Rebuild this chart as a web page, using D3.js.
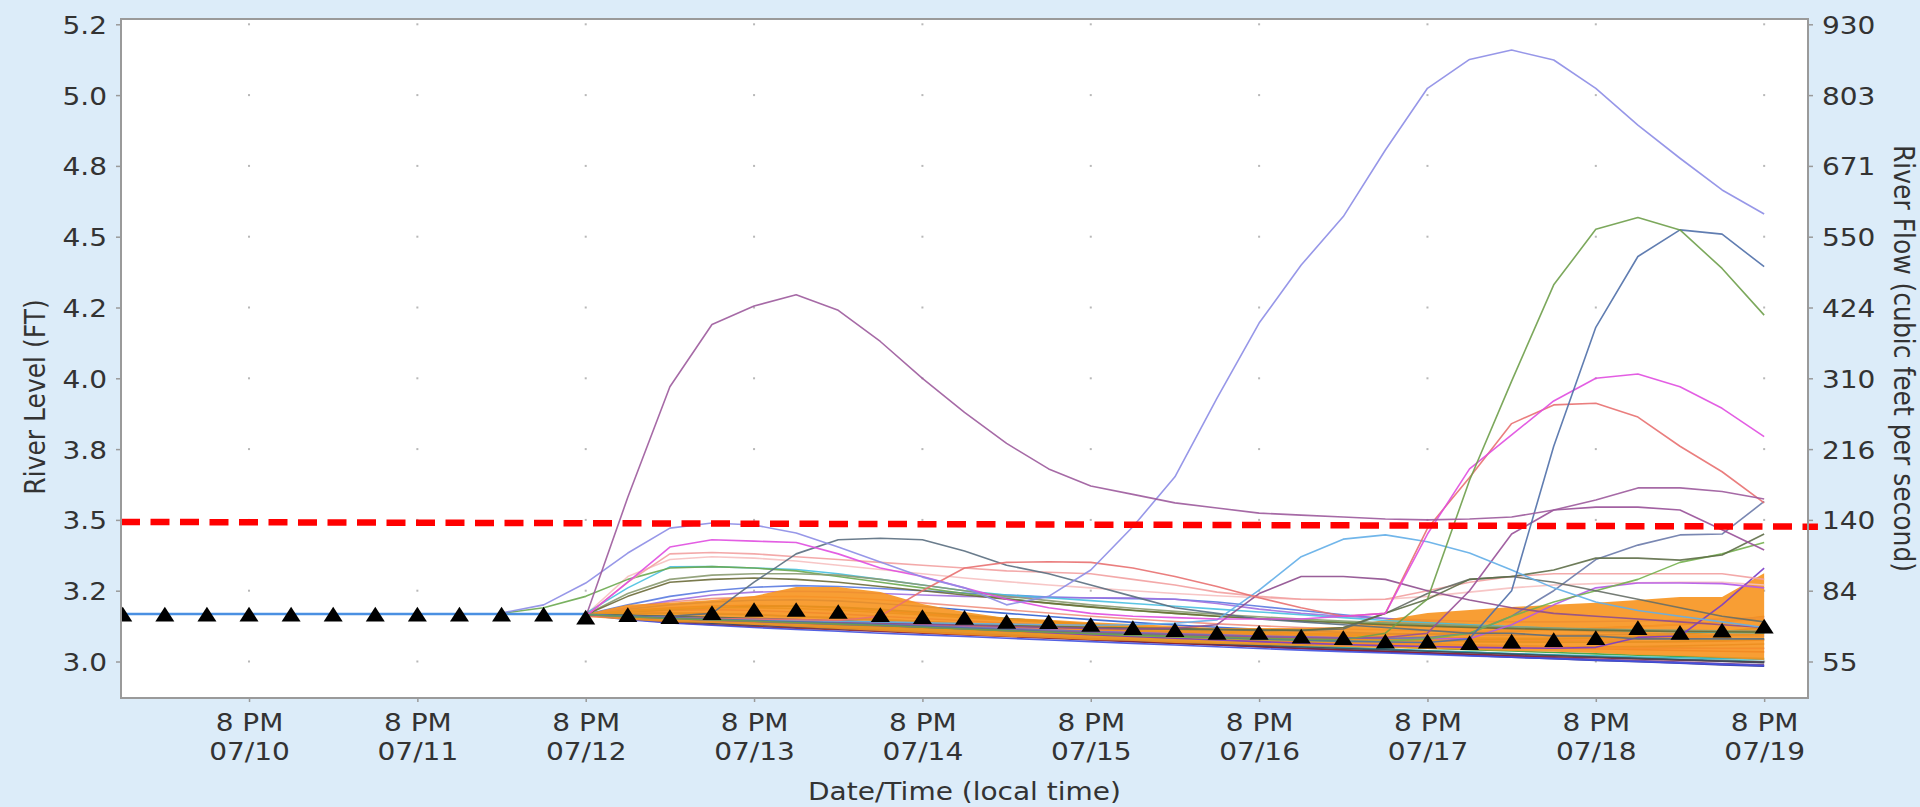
<!DOCTYPE html>
<html>
<head>
<meta charset="utf-8">
<script src="https://cdn.jsdelivr.net/npm/d3@7"></script>
<style>
  html, body { margin: 0; padding: 0; background: #dcecf9; }
  svg { display: block; font-family: 'DejaVu Sans', sans-serif; }
</style>
</head>
<body>
<div id="chart"></div>
<script>
'use strict';

const parseTime = d3.utcParse('%Y-%m-%d %H:%M');

// 6-hourly time steps, index 0 = 07/10 02:00
const times = [
  '2019-07-10 02:00', '2019-07-10 08:00', '2019-07-10 14:00', '2019-07-10 20:00',
  '2019-07-11 02:00', '2019-07-11 08:00', '2019-07-11 14:00', '2019-07-11 20:00',
  '2019-07-12 02:00', '2019-07-12 08:00', '2019-07-12 14:00', '2019-07-12 20:00',
  '2019-07-13 02:00', '2019-07-13 08:00', '2019-07-13 14:00', '2019-07-13 20:00',
  '2019-07-14 02:00', '2019-07-14 08:00', '2019-07-14 14:00', '2019-07-14 20:00',
  '2019-07-15 02:00', '2019-07-15 08:00', '2019-07-15 14:00', '2019-07-15 20:00',
  '2019-07-16 02:00', '2019-07-16 08:00', '2019-07-16 14:00', '2019-07-16 20:00',
  '2019-07-17 02:00', '2019-07-17 08:00', '2019-07-17 14:00', '2019-07-17 20:00',
  '2019-07-18 02:00', '2019-07-18 08:00', '2019-07-18 14:00', '2019-07-18 20:00',
  '2019-07-19 02:00', '2019-07-19 08:00', '2019-07-19 14:00', '2019-07-19 20:00'
].map(parseTime);

const timeDomain = ['2019-07-10 01:45', '2019-07-20 02:15'];
const dayTicks = [
  '2019-07-10 20:00', '2019-07-11 20:00', '2019-07-12 20:00', '2019-07-13 20:00', '2019-07-14 20:00',
  '2019-07-15 20:00', '2019-07-16 20:00', '2019-07-17 20:00', '2019-07-18 20:00', '2019-07-19 20:00'
];
const dayTickDates = ['07/10', '07/11', '07/12', '07/13', '07/14', '07/15', '07/16', '07/17', '07/18', '07/19'];

const stageDomain = [2.8711, 5.2687];
const stageTicks = [3.0, 3.25, 3.5, 3.75, 4.0, 4.25, 4.5, 4.75, 5.0, 5.25];
const stageTickLabels = ['3.0', '3.2', '3.5', '3.8', '4.0', '4.2', '4.5', '4.8', '5.0', '5.2'];
const flowTickLabels = ['55', '84', '140', '216', '310', '424', '550', '671', '803', '930'];

// observed level (index 0..11)
const observed = [3.168, 3.168, 3.168, 3.168, 3.168, 3.168, 3.168, 3.168, 3.168, 3.168, 3.168, 3.168];

// triangle markers (index 0..39)
const markers = [
  3.166, 3.166, 3.166, 3.166, 3.166, 3.166, 3.166, 3.166, 3.166, 3.166, 3.166,
  3.155, 3.164, 3.157, 3.171, 3.182, 3.182, 3.175, 3.164, 3.157, 3.154,
  3.14, 3.139, 3.129, 3.118, 3.111, 3.101, 3.101, 3.088, 3.083, 3.07,
  3.07, 3.065, 3.07, 3.076, 3.083, 3.118, 3.101, 3.109, 3.123
];

// shaded band (index 11..39)
const bandUpper = [3.168, 3.2, 3.207, 3.217, 3.231, 3.263, 3.263, 3.245, 3.203, 3.175, 3.154, 3.147, 3.139, 3.132, 3.125,
  3.118, 3.118, 3.118, 3.122, 3.147, 3.171, 3.182, 3.192, 3.2, 3.207, 3.217, 3.228, 3.228, 3.312];
const bandLower = [3.157, 3.147, 3.139, 3.136, 3.129, 3.122, 3.115, 3.108, 3.101, 3.094, 3.087, 3.083, 3.076, 3.072, 3.065,
  3.062, 3.058, 3.055, 3.051, 3.048, 3.044, 3.041, 3.037, 3.034, 3.03, 3.023, 3.019, 3.012, 3.005];

// flood level line
const floodTimes = ['2019-07-10 01:45', '2019-07-20 03:40'];
const floodStage = [3.493, 3.476];

// ensemble traces, values from index 11 unless noted
const purplePeak = [3.157, 3.58, 3.97, 4.19, 4.255, 4.295, 4.24, 4.13, 4.0, 3.88, 3.77, 3.68, 3.62, 3.59, 3.56,
  3.542, 3.524, 3.517, 3.51, 3.503, 3.5, 3.503, 3.51, 3.535, 3.57, 3.613, 3.613, 3.6, 3.574];
const lavenderPeak = [3.171, 3.2, 3.277, 3.383, 3.471, 3.489, 3.482, 3.454, 3.404, 3.351, 3.298, 3.26, 3.2, 3.23, 3.323,
  3.476, 3.652, 3.93, 4.195, 4.4, 4.571, 4.806, 5.024, 5.126, 5.159, 5.124, 5.024, 4.894, 4.777, 4.665, 4.58]; // from index 9
const greenPeak = [3.165, 3.158, 3.152, 3.147, 3.142, 3.137, 3.132, 3.127, 3.121, 3.115, 3.109, 3.104, 3.099, 3.094, 3.09,
  3.086, 3.082, 3.079, 3.077, 3.1, 3.22, 3.64, 3.99, 4.33, 4.526, 4.568, 4.524, 4.388, 4.223];
const steelPeak = [3.165, 3.16, 3.155, 3.15, 3.145, 3.14, 3.135, 3.13, 3.124, 3.118, 3.112, 3.106, 3.1, 3.095, 3.09,
  3.085, 3.08, 3.076, 3.072, 3.069, 3.067, 3.08, 3.25, 3.76, 4.18, 4.43, 4.524, 4.509, 4.394];
const magentaPeak = [3.16, 3.28, 3.404, 3.43, 3.425, 3.42, 3.38, 3.33, 3.3, 3.26, 3.22, 3.19, 3.17, 3.16, 3.155,
  3.15, 3.15, 3.15, 3.16, 3.17, 3.45, 3.68, 3.8, 3.92, 4.0, 4.015, 3.97, 3.894, 3.794];
const salmonPeak = [3.16, 3.158, 3.155, 3.152, 3.15, 3.148, 3.145, 3.16, 3.25, 3.33, 3.35, 3.352, 3.35, 3.33, 3.3,
  3.265, 3.225, 3.19, 3.16, 3.17, 3.47, 3.65, 3.84, 3.906, 3.912, 3.863, 3.76, 3.67, 3.56];
const lightBlueBump = [3.166, 3.16, 3.155, 3.15, 3.147, 3.145, 3.142, 3.14, 3.137, 3.134, 3.132, 3.13, 3.128, 3.13, 3.135,
  3.147, 3.252, 3.37, 3.432, 3.447, 3.423, 3.383, 3.323, 3.26, 3.21, 3.18, 3.16, 3.14, 3.12];
const purpleBump = [3.165, 3.16, 3.156, 3.152, 3.148, 3.144, 3.14, 3.136, 3.132, 3.128, 3.124, 3.12, 3.117, 3.115, 3.118,
  3.13, 3.24, 3.3, 3.3, 3.29, 3.25, 3.217, 3.19, 3.17, 3.16, 3.15, 3.14, 3.13, 3.12];
const plumLate = [3.165, 3.158, 3.152, 3.146, 3.141, 3.136, 3.131, 3.126, 3.121, 3.116, 3.111, 3.106, 3.102, 3.098, 3.094,
  3.09, 3.087, 3.084, 3.082, 3.085, 3.1, 3.25, 3.45, 3.535, 3.545, 3.545, 3.535, 3.465, 3.394];
const slateBump = [3.165, 3.16, 3.16, 3.17, 3.28, 3.38, 3.43, 3.435, 3.43, 3.39, 3.34, 3.31, 3.27, 3.23, 3.19,
  3.17, 3.15, 3.14, 3.13, 3.12, 3.11, 3.1, 3.1, 3.09, 3.09, 3.08, 3.08, 3.08, 3.08];
const oliveLate = [3.165, 3.162, 3.158, 3.154, 3.15, 3.146, 3.142, 3.138, 3.134, 3.13, 3.127, 3.124, 3.121, 3.118, 3.116,
  3.114, 3.112, 3.11, 3.12, 3.17, 3.22, 3.29, 3.3, 3.323, 3.365, 3.365, 3.358, 3.376, 3.45];
const grayLate = [3.166, 3.163, 3.16, 3.156, 3.152, 3.148, 3.143, 3.138, 3.134, 3.13, 3.126, 3.122, 3.119, 3.116, 3.114,
  3.112, 3.11, 3.11, 3.115, 3.17, 3.24, 3.29, 3.3, 3.28, 3.25, 3.22, 3.19, 3.16, 3.14];
const greenLate = [3.167, 3.163, 3.158, 3.152, 3.146, 3.14, 3.134, 3.128, 3.122, 3.116, 3.11, 3.104, 3.098, 3.092, 3.087,
  3.082, 3.078, 3.074, 3.071, 3.072, 3.08, 3.1, 3.16, 3.21, 3.25, 3.29, 3.35, 3.38, 3.42];
const blueGrayLate = [3.166, 3.161, 3.156, 3.151, 3.146, 3.141, 3.136, 3.131, 3.126, 3.121, 3.116, 3.111, 3.106, 3.101, 3.097,
  3.093, 3.089, 3.086, 3.083, 3.081, 3.085, 3.1, 3.16, 3.25, 3.36, 3.411, 3.447, 3.45, 3.565];
const pinkHigh = [3.16, 3.28, 3.38, 3.385, 3.38, 3.37, 3.36, 3.35, 3.34, 3.33, 3.32, 3.315, 3.31, 3.29, 3.27,
  3.245, 3.23, 3.22, 3.217, 3.22, 3.25, 3.28, 3.3, 3.31, 3.31, 3.31, 3.31, 3.31, 3.29];
const violetLate = [3.166, 3.162, 3.157, 3.152, 3.147, 3.142, 3.137, 3.132, 3.127, 3.122, 3.117, 3.112, 3.107, 3.102, 3.098,
  3.094, 3.09, 3.087, 3.084, 3.082, 3.081, 3.08, 3.13, 3.2, 3.26, 3.277, 3.277, 3.275, 3.26];
const violetEnd = [3.166, 3.16, 3.155, 3.15, 3.145, 3.14, 3.134, 3.128, 3.122, 3.116, 3.109, 3.102, 3.095, 3.088, 3.082,
  3.076, 3.07, 3.065, 3.06, 3.056, 3.053, 3.05, 3.048, 3.047, 3.05, 3.085, 3.09, 3.2, 3.33];
const cyanEarly = [3.17, 3.26, 3.334, 3.335, 3.33, 3.325, 3.31, 3.29, 3.27, 3.25, 3.235, 3.225, 3.215, 3.205, 3.195,
  3.185, 3.175, 3.165, 3.155, 3.145, 3.137, 3.13, 3.123, 3.117, 3.112, 3.108, 3.105, 3.103, 3.102];
const greenEarly = [3.17, 3.19, 3.23, 3.29, 3.33, 3.335, 3.33, 3.32, 3.3, 3.28, 3.26, 3.24, 3.222, 3.206, 3.192,
  3.18, 3.17, 3.16, 3.152, 3.145, 3.139, 3.133, 3.128, 3.123, 3.119, 3.115, 3.112, 3.109, 3.107, 3.105, 3.103]; // from index 9
const sageEarly = [3.165, 3.24, 3.29, 3.305, 3.31, 3.31, 3.305, 3.29, 3.27, 3.25, 3.23, 3.215, 3.2, 3.188, 3.177,
  3.167, 3.158, 3.15, 3.143, 3.137, 3.131, 3.126, 3.122, 3.118, 3.115, 3.112, 3.11, 3.108, 3.107];
const oliveEarly = [3.165, 3.23, 3.28, 3.29, 3.295, 3.29, 3.28, 3.265, 3.25, 3.235, 3.22, 3.206, 3.193, 3.181, 3.17,
  3.16, 3.151, 3.143, 3.136, 3.13, 3.125, 3.12, 3.116, 3.113, 3.11, 3.108, 3.106, 3.105, 3.104];
const blueEarly = [3.166, 3.2, 3.23, 3.25, 3.262, 3.268, 3.265, 3.258, 3.25, 3.242, 3.235, 3.228, 3.224, 3.222, 3.22,
  3.21, 3.195, 3.18, 3.165, 3.152, 3.14, 3.13, 3.12, 3.112, 3.105, 3.1, 3.095, 3.092, 3.09];
const lilacEarly = [3.166, 3.19, 3.215, 3.235, 3.245, 3.248, 3.246, 3.24, 3.235, 3.23, 3.228, 3.226, 3.225, 3.224, 3.22,
  3.205, 3.185, 3.17, 3.16, 3.152, 3.146, 3.142, 3.14, 3.14, 3.141, 3.143, 3.146, 3.15, 3.155];
const palePinkEarly = [3.165, 3.3, 3.36, 3.37, 3.365, 3.355, 3.34, 3.325, 3.31, 3.295, 3.282, 3.27, 3.26, 3.25, 3.24,
  3.232, 3.225, 3.22, 3.218, 3.22, 3.23, 3.245, 3.26, 3.27, 3.275, 3.278, 3.28, 3.28, 3.27];

const low1 = [3.165, 3.155, 3.145, 3.138, 3.132, 3.126, 3.12, 3.113, 3.106, 3.1, 3.093, 3.087, 3.08, 3.073, 3.066, 3.06, 3.053, 3.047, 3.04, 3.034, 3.028, 3.021, 3.015, 3.01, 3.004, 2.999, 2.994, 2.988, 2.983];
const low2 = [3.165, 3.152, 3.142, 3.135, 3.128, 3.122, 3.117, 3.11, 3.104, 3.097, 3.091, 3.085, 3.078, 3.071, 3.065, 3.058, 3.052, 3.046, 3.04, 3.035, 3.03, 3.024, 3.018, 3.013, 3.008, 3.003, 2.998, 2.993, 2.988];
const low3 = [3.166, 3.156, 3.148, 3.141, 3.135, 3.129, 3.123, 3.117, 3.111, 3.105, 3.098, 3.092, 3.086, 3.08, 3.074, 3.068, 3.062, 3.056, 3.05, 3.044, 3.038, 3.033, 3.027, 3.022, 3.017, 3.012, 3.008, 3.004, 3.0];
const low4 = [3.167, 3.16, 3.152, 3.146, 3.14, 3.134, 3.128, 3.122, 3.116, 3.11, 3.104, 3.098, 3.092, 3.086, 3.08, 3.075, 3.069, 3.063, 3.058, 3.052, 3.047, 3.042, 3.037, 3.032, 3.027, 3.022, 3.018, 3.014, 3.01];
const low5 = [3.168, 3.165, 3.16, 3.156, 3.152, 3.147, 3.142, 3.137, 3.131, 3.125, 3.119, 3.113, 3.107, 3.101, 3.095, 3.089, 3.083, 3.077, 3.071, 3.066, 3.061, 3.056, 3.052, 3.048, 3.045, 3.042, 3.039, 3.036, 3.034];
const low6 = [3.168, 3.17, 3.172, 3.17, 3.166, 3.16, 3.154, 3.148, 3.141, 3.134, 3.127, 3.12, 3.113, 3.106, 3.1, 3.094, 3.088, 3.083, 3.078, 3.075, 3.072, 3.07, 3.069, 3.068, 3.068, 3.069, 3.07, 3.072, 3.076];
const low7 = [3.168, 3.175, 3.18, 3.183, 3.18, 3.175, 3.168, 3.16, 3.152, 3.144, 3.136, 3.128, 3.121, 3.114, 3.107, 3.1, 3.094, 3.088, 3.083, 3.079, 3.076, 3.074, 3.073, 3.073, 3.075, 3.078, 3.082, 3.09, 3.1];
const low8 = [3.168, 3.18, 3.19, 3.196, 3.198, 3.195, 3.188, 3.179, 3.169, 3.159, 3.149, 3.14, 3.131, 3.123, 3.116, 3.11, 3.105, 3.1, 3.097, 3.096, 3.097, 3.1, 3.106, 3.112, 3.118, 3.124, 3.13, 3.14, 3.16];
const low9 = [3.168, 3.185, 3.2, 3.21, 3.216, 3.218, 3.214, 3.205, 3.194, 3.182, 3.17, 3.159, 3.148, 3.138, 3.129, 3.121, 3.114, 3.108, 3.103, 3.099, 3.096, 3.094, 3.093, 3.093, 3.094, 3.096, 3.1, 3.105, 3.112];
const low10 = [3.167, 3.175, 3.183, 3.19, 3.195, 3.196, 3.192, 3.184, 3.174, 3.163, 3.152, 3.141, 3.131, 3.121, 3.112, 3.104, 3.097, 3.091, 3.086, 3.082, 3.079, 3.077, 3.077, 3.079, 3.083, 3.089, 3.096, 3.106, 3.12];
const low11 = [3.167, 3.17, 3.171, 3.169, 3.165, 3.16, 3.154, 3.148, 3.142, 3.136, 3.13, 3.124, 3.118, 3.112, 3.106, 3.1, 3.094, 3.089, 3.084, 3.08, 3.077, 3.075, 3.074, 3.074, 3.076, 3.08, 3.086, 3.094, 3.105];
const low12 = [3.166, 3.158, 3.151, 3.145, 3.14, 3.135, 3.13, 3.125, 3.119, 3.113, 3.107, 3.101, 3.095, 3.089, 3.084, 3.079, 3.074, 3.069, 3.065, 3.061, 3.058, 3.055, 3.053, 3.052, 3.052, 3.053, 3.055, 3.058, 3.062];
const low13 = [3.166, 3.156, 3.147, 3.139, 3.132, 3.126, 3.12, 3.114, 3.108, 3.102, 3.096, 3.09, 3.084, 3.078, 3.072, 3.066, 3.06, 3.054, 3.048, 3.043, 3.038, 3.033, 3.028, 3.024, 3.02, 3.016, 3.013, 3.01, 3.008];
const low14 = [3.165, 3.15, 3.138, 3.13, 3.124, 3.118, 3.112, 3.106, 3.1, 3.094, 3.088, 3.082, 3.076, 3.07, 3.064, 3.058, 3.052, 3.046, 3.041, 3.036, 3.031, 3.026, 3.021, 3.017, 3.013, 3.009, 3.005, 3.001, 2.997];
const low15 = [3.168, 3.178, 3.186, 3.19, 3.19, 3.187, 3.181, 3.173, 3.164, 3.155, 3.146, 3.138, 3.13, 3.122, 3.115, 3.108, 3.102, 3.097, 3.092, 3.088, 3.085, 3.083, 3.082, 3.082, 3.083, 3.085, 3.088, 3.092, 3.097];
const low16 = [3.167, 3.163, 3.159, 3.155, 3.15, 3.145, 3.139, 3.133, 3.127, 3.121, 3.115, 3.109, 3.103, 3.097, 3.091, 3.086, 3.081, 3.076, 3.071, 3.067, 3.063, 3.059, 3.056, 3.053, 3.051, 3.049, 3.048, 3.047, 3.047];
const low17 = [3.164, 3.148, 3.136, 3.128, 3.12, 3.113, 3.107, 3.1, 3.094, 3.088, 3.082, 3.076, 3.07, 3.064, 3.058, 3.052, 3.046, 3.04, 3.035, 3.03, 3.025, 3.02, 3.015, 3.01, 3.005, 3.0, 2.995, 2.99, 2.985];
const low18 = [3.168, 3.19, 3.21, 3.222, 3.228, 3.23, 3.226, 3.218, 3.207, 3.195, 3.183, 3.171, 3.16, 3.15, 3.141, 3.133, 3.126, 3.12, 3.115, 3.111, 3.108, 3.107, 3.108, 3.111, 3.116, 3.123, 3.131, 3.14, 3.15];
const low19 = [3.167, 3.17, 3.17, 3.168, 3.164, 3.159, 3.153, 3.147, 3.141, 3.135, 3.128, 3.122, 3.116, 3.11, 3.104, 3.098, 3.092, 3.087, 3.082, 3.078, 3.074, 3.071, 3.069, 3.068, 3.068, 3.069, 3.071, 3.074, 3.078];
const low20 = [3.166, 3.162, 3.158, 3.153, 3.147, 3.141, 3.135, 3.129, 3.123, 3.117, 3.111, 3.105, 3.099, 3.093, 3.087, 3.081, 3.076, 3.071, 3.066, 3.062, 3.058, 3.055, 3.052, 3.05, 3.048, 3.047, 3.046, 3.046, 3.046];
const low21 = [3.165, 3.153, 3.143, 3.135, 3.129, 3.123, 3.117, 3.111, 3.105, 3.099, 3.093, 3.087, 3.081, 3.075, 3.069, 3.063, 3.057, 3.051, 3.046, 3.041, 3.036, 3.031, 3.026, 3.021, 3.016, 3.011, 3.006, 3.001, 2.996];

// drawn under the shaded band
const lowMembers = [
  { values: low1, start: 11, color: '#2c2c8c' },
  { values: low2, start: 11, color: '#6a3d9a' },
  { values: low3, start: 11, color: '#2a8a8a' },
  { values: low4, start: 11, color: '#3aa03a' },
  { values: low5, start: 11, color: '#c0304a' },
  { values: low6, start: 11, color: '#e03030' },
  { values: low7, start: 11, color: '#c040a0' },
  { values: low8, start: 11, color: '#c06020' },
  { values: low9, start: 11, color: '#3060d0' },
  { values: low10, start: 11, color: '#2e6e2e' },
  { values: low11, start: 11, color: '#e070a0' },
  { values: low12, start: 11, color: '#8a5a30' },
  { values: low13, start: 11, color: '#30b0c0' },
  { values: low14, start: 11, color: '#8a2030' },
  { values: low15, start: 11, color: '#8a8a30' },
  { values: low16, start: 11, color: '#808080' },
  { values: low17, start: 11, color: '#4050e0' },
  { values: low18, start: 11, color: '#f09080' },
  { values: low19, start: 11, color: '#2e8b57' },
  { values: low20, start: 11, color: '#ff50b0' },
  { values: low21, start: 11, color: '#3a4a5a' },
  { values: blueEarly, start: 11, color: '#5a7ae0' },
  { values: lilacEarly, start: 11, color: '#a070e0' }
];

// drawn over the shaded band
const highMembers = [
  { values: palePinkEarly, start: 11, color: '#f6c0c0' },
  { values: cyanEarly, start: 11, color: '#48c0e0' },
  { values: greenEarly, start: 9, color: '#6aa84f' },
  { values: sageEarly, start: 11, color: '#8a9a70' },
  { values: oliveEarly, start: 11, color: '#6b6b3a' },
  { values: violetEnd, start: 11, color: '#7a3cc8' },
  { values: violetLate, start: 11, color: '#b458e8' },
  { values: pinkHigh, start: 11, color: '#f2a0a0' },
  { values: blueGrayLate, start: 11, color: '#6a7aaa' },
  { values: greenLate, start: 11, color: '#74b04e' },
  { values: grayLate, start: 11, color: '#666e66' },
  { values: oliveLate, start: 11, color: '#5e6e48' },
  { values: slateBump, start: 11, color: '#5a6e80' },
  { values: plumLate, start: 11, color: '#985098' },
  { values: purpleBump, start: 11, color: '#8e4e8e' },
  { values: lightBlueBump, start: 11, color: '#62aee8' },
  { values: salmonPeak, start: 11, color: '#e87070' },
  { values: magentaPeak, start: 11, color: '#e04ce0' },
  { values: steelPeak, start: 11, color: '#4f6fa8' },
  { values: greenPeak, start: 11, color: '#6e9e4a' },
  { values: lavenderPeak, start: 9, color: '#8c8ce6' },
  { values: purplePeak, start: 11, color: '#9c5a9c' }
];

const config = { width: 1920, height: 807 };
const margin = { top: 19, right: 112, bottom: 109, left: 121 };
const width = config.width - margin.left - margin.right;
const height = config.height - margin.top - margin.bottom;
const textStretch = 1.12;
const fontSize = '25px';
const textColour = '#333';
const axisColour = '#9a9a9a';

const x = d3.scaleUtc().domain(timeDomain.map(parseTime)).range([0, width]);
const y = d3.scaleLinear().domain(stageDomain).range([height, 0]);

const svg = d3.select('#chart').append('svg')
  .attr('width', config.width)
  .attr('height', config.height);

svg.append('rect').attr('width', config.width).attr('height', config.height).attr('fill', '#dcecf9');

const g = svg.append('g').attr('transform', `translate(${margin.left},${margin.top})`);

g.append('rect').attr('width', width).attr('height', height).attr('fill', '#fff');

svg.append('defs').append('clipPath').attr('id', 'plot-clip')
  .append('rect').attr('width', width).attr('height', height);

// grid: only dots at the crossings
const gridDots = [];
dayTicks.forEach(t => stageTicks.forEach(s => gridDots.push([parseTime(t), s])));
g.append('g').selectAll('rect').data(gridDots).enter().append('rect')
  .attr('x', d => x(d[0]) - 1)
  .attr('y', d => y(d[1]) - 1)
  .attr('width', 2)
  .attr('height', 2)
  .attr('fill', '#b8b8b8');

const plot = g.append('g').attr('clip-path', 'url(#plot-clip)');

const line = d3.line()
  .x(d => x(d.t))
  .y(d => y(d.v));

const toPoints = m => m.values.map((v, i) => ({ t: times[m.start + i], v }));

const drawMembers = list => {
  plot.append('g').selectAll('path').data(list).enter().append('path')
    .attr('d', m => line(toPoints(m)))
    .attr('fill', 'none')
    .attr('stroke', m => m.color)
    .attr('stroke-width', 1.6)
    .attr('stroke-linejoin', 'round')
    .attr('opacity', 0.9);
};

drawMembers(lowMembers);

// shaded band
const bandData = bandUpper.map((v, i) => ({ t: times[11 + i], hi: v, lo: bandLower[i] }));
plot.append('path')
  .datum(bandData)
  .attr('d', d3.area().x(d => x(d.t)).y0(d => y(d.lo)).y1(d => y(d.hi)))
  .attr('fill', '#f7931e')
  .attr('opacity', 0.9);

drawMembers(highMembers);

// observed
plot.append('path')
  .datum(observed.map((v, i) => ({ t: times[i], v })))
  .attr('d', line)
  .attr('fill', 'none')
  .attr('stroke', '#4a90e2')
  .attr('stroke-width', 2.5);

// triangle markers
const tri = d3.symbol().type(d3.symbolTriangle).size(125);
plot.append('g').selectAll('path').data(markers.map((v, i) => ({ t: times[i], v }))).enter().append('path')
  .attr('d', tri)
  .attr('transform', d => `translate(${x(d.t)},${y(d.v) + 2}) scale(${textStretch},1)`)
  .attr('fill', '#000');

// flood level (runs slightly past the frame)
g.append('path')
  .datum(floodStage.map((v, i) => ({ t: parseTime(floodTimes[i]), v })))
  .attr('d', line)
  .attr('fill', 'none')
  .attr('stroke', '#ff0000')
  .attr('stroke-width', 6.5)
  .attr('stroke-dasharray', '19 10.5');

// frame
g.append('rect')
  .attr('width', width)
  .attr('height', height)
  .attr('fill', 'none')
  .attr('stroke', axisColour)
  .attr('stroke-width', 2);

const styleAxis = sel => {
  sel.select('.domain').remove();
  sel.selectAll('.tick line').attr('stroke', axisColour).attr('stroke-width', 1.5);
  sel.selectAll('.tick text')
    .style('font-size', fontSize)
    .style('font-family', "'DejaVu Sans', sans-serif")
    .attr('fill', textColour);
};

// left axis
const leftAxis = g.append('g')
  .call(d3.axisLeft(y).tickValues(stageTicks).tickFormat((d, i) => stageTickLabels[i]).tickSize(5).tickSizeOuter(0))
  .call(styleAxis);
leftAxis.selectAll('.tick text')
  .attr('x', 0)
  .attr('dy', '0.36em')
  .attr('text-anchor', 'end')
  .attr('transform', `translate(-14,0) scale(${textStretch},1)`);

// right axis
const rightAxis = g.append('g')
  .attr('transform', `translate(${width},0)`)
  .call(d3.axisRight(y).tickValues(stageTicks).tickFormat((d, i) => flowTickLabels[i]).tickSize(5).tickSizeOuter(0))
  .call(styleAxis);
rightAxis.selectAll('.tick text')
  .attr('x', 0)
  .attr('dy', '0.36em')
  .attr('text-anchor', 'start')
  .attr('transform', `translate(14,0) scale(${textStretch},1)`);

// bottom axis
const bottomAxis = g.append('g')
  .attr('transform', `translate(0,${height})`)
  .call(d3.axisBottom(x).tickValues(dayTicks.map(parseTime)).tickFormat('').tickSize(4).tickSizeOuter(0))
  .call(styleAxis);
bottomAxis.selectAll('.tick text')
  .attr('y', null)
  .attr('dy', null)
  .attr('text-anchor', 'middle')
  .attr('transform', `scale(${textStretch},1)`)
  .each(function(d, i) {
    const text = d3.select(this);
    text.append('tspan').attr('x', 0).attr('y', 33).text('8 PM');
    text.append('tspan').attr('x', 0).attr('y', 62).text(dayTickDates[i]);
  });

// axis titles
const title = (tx, ty, rot, label) => {
  svg.append('text')
    .attr('transform', `translate(${tx},${ty}) scale(${textStretch},1) rotate(${rot})`)
    .attr('text-anchor', 'middle')
    .attr('fill', textColour)
    .style('font-size', fontSize)
    .text(label);
};
title(margin.left + width / 2, 800, 0, 'Date/Time (local time)');
title(45, 397, -90, 'River Level (FT)');
title(1894, margin.top + height / 2, 90, 'River Flow (cubic feet per second)');
</script>
</body>
</html>
